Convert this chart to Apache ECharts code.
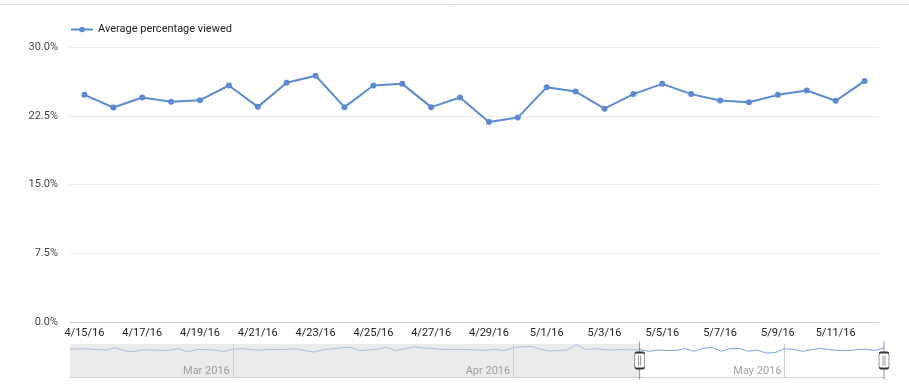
<!DOCTYPE html>
<html>
<head>
<meta charset="utf-8">
<script src="https://cdn.jsdelivr.net/npm/echarts@6/dist/echarts.min.js"></script>
<style>
  html, body { margin: 0; padding: 0; background: #fff; }
  #chart { width: 909px; height: 389px; }
</style>
</head>
<body>
<div id="chart"></div>
<script>
// ---- Data ----
const seriesName = 'Average percentage viewed';
const mainDates = ['4/15/16','4/16/16','4/17/16','4/18/16','4/19/16','4/20/16','4/21/16','4/22/16','4/23/16','4/24/16',
  '4/25/16','4/26/16','4/27/16','4/28/16','4/29/16','4/30/16','5/1/16','5/2/16','5/3/16','5/4/16',
  '5/5/16','5/6/16','5/7/16','5/8/16','5/9/16','5/10/16','5/11/16','5/12/16'];
const mainValues = [24.78, 23.40, 24.49, 24.02, 24.20, 25.80, 23.47, 26.09, 26.86, 23.44,
  25.80, 25.98, 23.44, 24.49, 21.83, 22.30, 25.62, 25.14, 23.27, 24.86,
  25.98, 24.86, 24.16, 23.98, 24.78, 25.25, 24.13, 26.28];
const yMin = 0, yMax = 30, yInterval = 7.5;

// Range-selector (overview) data: daily values from navStart, the last 28 equal mainValues
const navStart = '2016-02-12';
const navEarlyValues = [25.2, 25.6, 25.5, 25.0, 24.5, 26.6, 24.0, 22.9, 24.8, 24.6, 24.2, 24.4, 25.8, 22.8, 25.0,
  25.0, 24.4, 23.2, 25.3, 25.8, 25.0, 24.3, 25.2, 24.9, 25.2, 25.6, 24.0, 22.6, 24.9, 25.6,
  26.4, 27.0, 24.0, 24.6, 25.4, 27.0, 24.0, 25.6, 27.4, 26.4, 26.0, 25.2, 25.0, 25.1, 25.0,
  24.5, 24.3, 25.0, 24.0, 26.5, 27.5, 27.8, 25.2, 23.6, 24.0, 24.6, 29.5, 25.0, 25.8, 25.0,
  24.5, 25.0, 24.6];
const navMonths = ['2016-03-01', '2016-04-01', '2016-05-01'];
const selection = ['2016-04-15', '2016-05-12'];
const monthNames = ['Jan','Feb','Mar','Apr','May','Jun','Jul','Aug','Sep','Oct','Nov','Dec'];

// ---- Build ----
function ts(s) { const p = s.split('-').map(Number); return Date.UTC(p[0], p[1] - 1, p[2]); }
const DAY = 86400000;
const navValues = navEarlyValues.concat(mainValues);
const navData = navValues.map((v, i) => [ts(navStart) + i * DAY, v]);
const navMin = navData[0][0], navMax = navData[navData.length - 1][0];
const selStart = ts(selection[0]), selEnd = ts(selection[1]);
const selIndex = navEarlyValues.length;
const navOut = navData.slice(0, selIndex + 1);
const navIn = navData.slice(selIndex);
const monthTs = navMonths.map(ts);
const handleMid = (yMin + yMax) / 2;

const handlePath = 'path://M5,0V11M5,27V38M2,11H8Q10,11,10,13V25Q10,27,8,27H2Q0,27,0,25V13Q0,11,2,11ZM4,14V24M6,14V24';

const chart = echarts.init(document.getElementById('chart'), null, { renderer: 'canvas' });
const FONT = 'Roboto, Arial, sans-serif';

chart.setOption({
  animation: false,
  backgroundColor: '#ffffff',
  textStyle: { fontFamily: FONT },
  graphic: [{
    type: 'line', silent: true,
    shape: { x1: 0, y1: 4.5, x2: 909, y2: 4.5 },
    style: { stroke: '#dcdcdc', lineWidth: 1 }
  }],
  legend: {
    data: [seriesName],
    left: 65, top: 19,
    itemWidth: 22, itemHeight: 7,
    textStyle: { fontFamily: FONT, fontSize: 11, color: '#222' }
  },
  grid: [
    { left: 70, right: 30, top: 47, bottom: 67 },
    { left: 70, right: 25, top: 344, bottom: 12 }
  ],
  xAxis: [{
    type: 'category', gridIndex: 0,
    data: mainDates, boundaryGap: true,
    axisLine: { show: true, lineStyle: { color: '#cccccc', width: 1 } },
    axisTick: { show: false },
    axisLabel: { interval: 1, margin: 6, fontSize: 11, color: '#222', fontFamily: FONT },
    splitLine: { show: false }
  }, {
    type: 'value', gridIndex: 1,
    min: navMin, max: navMax, z: 4,
    axisLine: { show: true, lineStyle: { color: '#d0d0d0', width: 1 } },
    axisTick: { show: true, inside: true, length: 33, customValues: monthTs, lineStyle: { color: '#cfcfcf', width: 1 } },
    axisLabel: {
      show: true, inside: true, margin: 0, customValues: monthTs,
      fontSize: 11, color: '#a0a0a0', fontFamily: FONT,
      align: 'right', verticalAlign: 'bottom', padding: [0, 3, 0, 0],
      formatter: function (v) { const d = new Date(v); return monthNames[d.getUTCMonth()] + ' ' + d.getUTCFullYear(); }
    },
    splitLine: { show: false }
  }],
  yAxis: [{
    type: 'value', gridIndex: 0,
    min: yMin, max: yMax, interval: yInterval,
    axisLine: { show: false }, axisTick: { show: false },
    axisLabel: { margin: 12, fontSize: 11, color: '#444', fontFamily: FONT,
      formatter: function (v) { return v.toFixed(1) + '%'; } },
    splitLine: { lineStyle: { color: '#ebebeb', width: 1 } }
  }, {
    type: 'value', gridIndex: 1,
    min: yMin, max: yMax,
    axisLine: { show: false }, axisTick: { show: false }, axisLabel: { show: false },
    splitLine: { show: false }
  }],
  series: [{
    name: seriesName, type: 'line',
    xAxisIndex: 0, yAxisIndex: 0,
    data: mainValues,
    symbol: 'circle', symbolSize: 6, showSymbol: true,
    lineStyle: { width: 2, color: '#5b8bd0' },
    itemStyle: { color: '#5b8bd0' }
  }, {
    name: 'overview-out', type: 'line',
    xAxisIndex: 1, yAxisIndex: 1,
    data: navOut, showSymbol: false, symbol: 'none',
    lineStyle: { width: 1, color: '#abbfdc' },
    silent: true, z: 1,
    markArea: {
      silent: true,
      itemStyle: { color: '#ebebeb' },
      data: [[{ xAxis: navMin }, { xAxis: selStart }]]
    }
  }, {
    name: 'overview-in', type: 'line',
    xAxisIndex: 1, yAxisIndex: 1,
    data: navIn, showSymbol: false, symbol: 'none',
    lineStyle: { width: 1, color: '#7aa3dc' },
    silent: true, z: 5
  }, {
    name: 'handles', type: 'scatter',
    xAxisIndex: 1, yAxisIndex: 1,
    data: [[selStart, handleMid], [selEnd, handleMid]],
    symbol: handlePath, symbolSize: [10, 38],
    itemStyle: { color: '#ffffff', borderColor: '#333333', borderWidth: 1, opacity: 1 },
    silent: true, z: 6
  }]
});
</script>
</body>
</html>
